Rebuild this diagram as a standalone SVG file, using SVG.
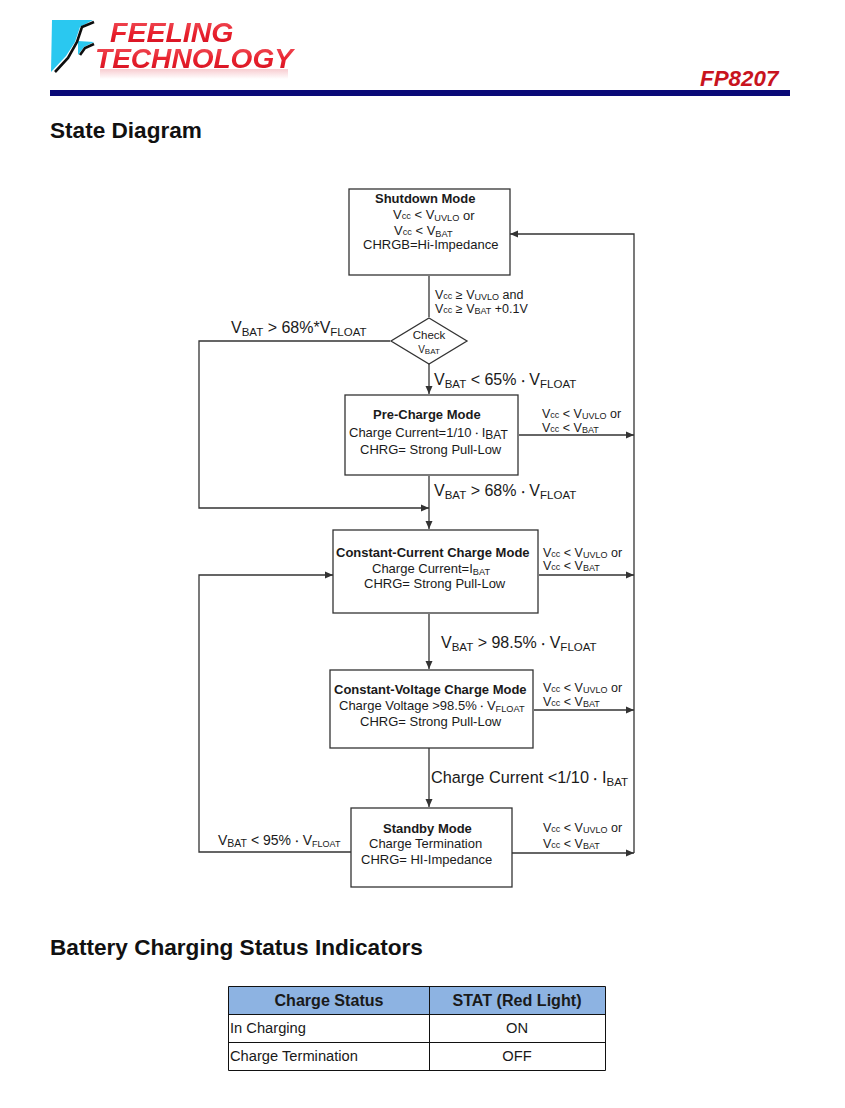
<svg xmlns="http://www.w3.org/2000/svg" width="845" height="1108" viewBox="0 0 845 1108">
<style>
text{font-family:"Liberation Sans",Arial,sans-serif;fill:#1a1a1a;white-space:pre}
.t{font-size:13px}.c{text-anchor:middle}.b{font-weight:bold}
.s{font-size:9.200px}.l{font-size:16px}.ls{font-size:11.500px}
.m{font-size:12.500px}.ms{font-size:9px}
.box{fill:#fff;stroke:#333;stroke-width:1.3}
.w{fill:none;stroke:#333;stroke-width:1.3}
.h{font-size:22.600px;font-weight:bold;fill:#111}
.logo{font-size:28.500px;font-weight:bold;font-style:italic;fill:url(#red)}
.td{font-size:14.700px}.th{font-size:16.100px;font-weight:bold}
</style>
<defs>
<marker id="a" markerWidth="10" markerHeight="8" refX="9" refY="4" orient="auto" markerUnits="userSpaceOnUse"><path d="M1 0.500L9 4L1 7.500z" fill="#333"/></marker>
<linearGradient id="red" x1="0" y1="0" x2="0" y2="1"><stop offset="0" stop-color="#f25a64"/><stop offset=".55" stop-color="#e8202c"/><stop offset="1" stop-color="#d01020"/></linearGradient>
<linearGradient id="fade" x1="0" y1="0" x2="0" y2="1"><stop offset="0" stop-color="#f8ccd0"/><stop offset="1" stop-color="#fff"/></linearGradient>
<filter id="soft" x="-5%" y="-5%" width="110%" height="110%"><feGaussianBlur stdDeviation="0.500"/></filter>
</defs>
<g id="header">
<g filter="url(#soft)">
<polygon points="52,20 93,20 80,27 75,42 66,56 51,72" fill="#2cc8f0"/>
<polygon points="78,41 94,42 84,47 78,55" fill="#2cc8f0"/>
<path d="M94,22 L82,27 L77,42 L68,58 L55,72" fill="none" stroke="#111" stroke-width="2.600"/>
<path d="M94,44 L85,48 L80,55" fill="none" stroke="#111" stroke-width="2.600"/>
<rect x="100" y="69" width="188" height="10" fill="url(#fade)"/>
<text class="logo" x="110" y="42">FEELING</text>
<text class="logo" x="95" y="68" textLength="198" lengthAdjust="spacingAndGlyphs">TECHNOLOGY</text>
</g>
<text x="700" y="86" font-size="22.400" font-weight="bold" font-style="italic" style="fill:#c8141e">FP8207</text>
<rect x="50" y="90" width="740" height="6" fill="#0a0a78"/>
</g>
<text class="h" x="50" y="138">State Diagram</text>
<g id="connectors">
<path class="w" d="M429 276V317"/>
<path class="w" d="M429 364V394" marker-end="url(#a)"/>
<path class="w" d="M390 341H199V508H429" marker-end="url(#a)"/>
<path class="w" d="M429 476V529" marker-end="url(#a)"/>
<path class="w" d="M429 614V669" marker-end="url(#a)"/>
<path class="w" d="M429 748V807" marker-end="url(#a)"/>
<path class="w" d="M351 852H199V575H333" marker-end="url(#a)"/>
<path class="w" d="M634 853V234H510" marker-end="url(#a)"/>
<path class="w" d="M519 435H634" marker-end="url(#a)"/>
<path class="w" d="M539 575H634" marker-end="url(#a)"/>
<path class="w" d="M534 710H634" marker-end="url(#a)"/>
<path class="w" d="M512 853H634" marker-end="url(#a)"/>
</g>
<g id="shutdown"><rect class="box" x="349" y="189" width="161" height="86"/>
<text class="t b" x="375" y="203">Shutdown Mode</text>
<text class="t" x="393" y="219">V<tspan class="s">cc</tspan> &lt; V<tspan class="s" dy="2">UVLO</tspan><tspan dy="-1"> or</tspan></text>
<text class="t" x="394" y="235">V<tspan class="s">cc</tspan> &lt; V<tspan class="s" dy="2">BAT</tspan></text>
<text class="t" x="363" y="249">CHRGB=Hi-Impedance</text></g>
<g id="check"><polygon class="box" points="429,318 467,341 429,364 391,341"/>
<text class="c" font-size="11.500" x="429" y="339">Check</text>
<text class="c" x="429" y="353" font-size="10">V<tspan font-size="8" dy="1">BAT</tspan></text></g>
<g id="precharge"><rect class="box" x="345" y="395" width="173" height="80"/>
<text class="t b" x="373" y="419">Pre-Charge Mode</text>
<text class="t" x="349" y="437">Charge Current=1/10 ‧ I<tspan dy="2" font-size="12">BAT</tspan></text>
<text class="t" x="360" y="454">CHRG= Strong Pull-Low</text></g>
<g id="cc"><rect class="box" x="333" y="530" width="205" height="83"/>
<text class="t b" x="336" y="557">Constant-Current Charge Mode</text>
<text class="t" x="372" y="573">Charge Current=I<tspan class="s" dy="2">BAT</tspan></text>
<text class="t" x="364" y="588">CHRG= Strong Pull-Low</text></g>
<g id="cv"><rect class="box" x="330" y="670" width="203" height="78"/>
<text class="t b" x="334" y="694">Constant-Voltage Charge Mode</text>
<text class="t" x="339" y="710">Charge Voltage &gt;98.5% ‧ V<tspan class="s" dy="2">FLOAT</tspan></text>
<text class="t" x="360" y="726">CHRG= Strong Pull-Low</text></g>
<g id="standby"><rect class="box" x="351" y="808" width="161" height="79"/>
<text class="t b" x="383" y="833">Standby Mode</text>
<text class="t" x="369" y="848">Charge Termination</text>
<text class="t" x="361" y="864">CHRG= HI-Impedance</text></g>
<g id="labels">
<text class="m" x="435" y="299">V<tspan class="ms">cc</tspan> ≥ V<tspan class="ms" dy="1">UVLO</tspan><tspan dy="-1"> and</tspan></text>
<text class="m" x="435" y="313">V<tspan class="ms">cc</tspan> ≥ V<tspan class="ms" dy="1">BAT</tspan><tspan dy="-1"> +0.1V</tspan></text>
<text class="l" x="231" y="333">V<tspan class="ls" dy="3">BAT</tspan><tspan dy="-3"> &gt; 68%*V</tspan><tspan class="ls" dy="3">FLOAT</tspan></text>
<text class="l" x="434" y="385">V<tspan class="ls" dy="3">BAT</tspan><tspan dy="-3"> &lt; 65% ‧ V</tspan><tspan class="ls" dy="3">FLOAT</tspan></text>
<text class="l" x="434" y="496">V<tspan class="ls" dy="3">BAT</tspan><tspan dy="-3"> &gt; 68% ‧ V</tspan><tspan class="ls" dy="3">FLOAT</tspan></text>
<text class="l" x="441" y="648">V<tspan class="ls" dy="3">BAT</tspan><tspan dy="-3"> &gt; 98.5% ‧ V</tspan><tspan class="ls" dy="3">FLOAT</tspan></text>
<text class="l" x="431" y="783" style="font-size:16.300px">Charge Current &lt;1/10 ‧ I<tspan class="ls" dy="3">BAT</tspan></text>
<text x="218" y="845" font-size="14">V<tspan font-size="10.500" dy="2">BAT</tspan><tspan dy="-2"> &lt; 95% ‧ V</tspan><tspan font-size="9" dy="2">FLOAT</tspan></text>
<text class="m" x="542" y="418">V<tspan class="ms">cc</tspan> &lt; V<tspan class="ms" dy="1">UVLO</tspan><tspan dy="-1"> or</tspan></text>
<text class="m" x="542" y="432">V<tspan class="ms">cc</tspan> &lt; V<tspan class="ms" dy="1">BAT</tspan></text>
<text class="m" x="543" y="557">V<tspan class="ms">cc</tspan> &lt; V<tspan class="ms" dy="1">UVLO</tspan><tspan dy="-1"> or</tspan></text>
<text class="m" x="543" y="570">V<tspan class="ms">cc</tspan> &lt; V<tspan class="ms" dy="1">BAT</tspan></text>
<text class="m" x="543" y="692">V<tspan class="ms">cc</tspan> &lt; V<tspan class="ms" dy="1">UVLO</tspan><tspan dy="-1"> or</tspan></text>
<text class="m" x="543" y="706">V<tspan class="ms">cc</tspan> &lt; V<tspan class="ms" dy="1">BAT</tspan></text>
<text class="m" x="543" y="832">V<tspan class="ms">cc</tspan> &lt; V<tspan class="ms" dy="1">UVLO</tspan><tspan dy="-1"> or</tspan></text>
<text class="m" x="543" y="848">V<tspan class="ms">cc</tspan> &lt; V<tspan class="ms" dy="1">BAT</tspan></text>
</g>
<text class="h" x="50" y="955">Battery Charging Status Indicators</text>
<g id="table">
<rect x="228.500" y="986.500" width="377" height="28" fill="#8db3e2"/>
<path fill="none" stroke="#111" d="M228.500 986.500H605.500V1070.500H228.500ZM228.500 1014.500H605.500M228.500 1042.500H605.500M429.500 986.500V1070.500"/>
<text class="th c" x="329" y="1006">Charge Status</text>
<text class="th c" x="517" y="1006">STAT (Red Light)</text>
<text class="td" x="230" y="1033">In Charging</text>
<text class="td c" x="517" y="1033">ON</text>
<text class="td" x="230" y="1061">Charge Termination</text>
<text class="td c" x="517" y="1061">OFF</text>
</g>
</svg>
